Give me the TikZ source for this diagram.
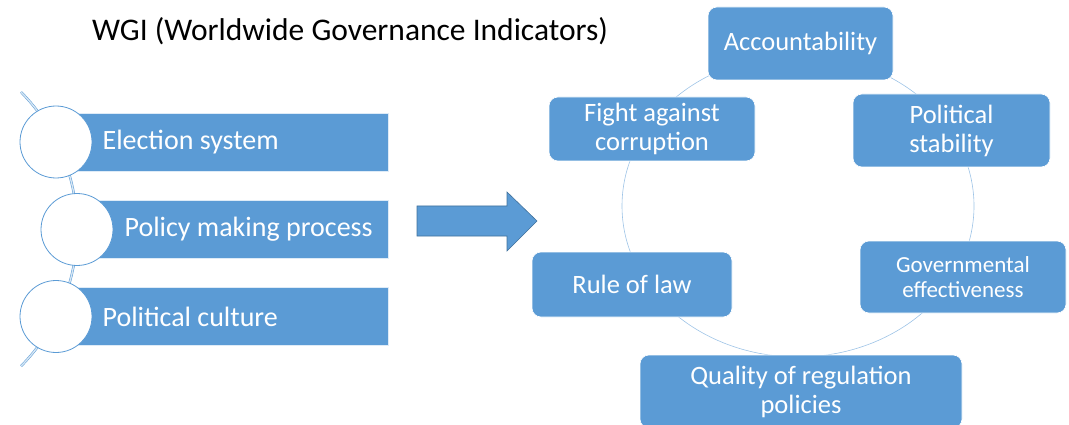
\documentclass[tikz,border=0pt]{standalone}
\usepackage{fontspec}
\setmainfont{Carlito}
\usetikzlibrary{positioning}
\definecolor{wgiblue}{HTML}{5B9BD5}
\definecolor{wgidark}{HTML}{41719C}
\definecolor{wgiring}{HTML}{9DC3E6}
\tikzset{
  indbox/.style={rectangle, rounded corners=9pt, fill=wgiblue, draw=white, line width=0.6pt,
    text=white, align=center, inner sep=0pt, font=\fontsize{26.5}{29}\selectfont},
  factbar/.style={rectangle, fill=wgiblue, draw=white!80!wgiblue, line width=0.6pt,
    minimum width=332pt, minimum height=58pt, anchor=west},
  factdot/.style={circle, fill=white, draw=wgiblue, line width=0.8pt, minimum size=72pt, inner sep=0pt},
  facttext/.style={text=white, inner sep=0pt, font=\fontsize{28}{30}\selectfont},
}
\begin{document}
\begin{tikzpicture}[x=1pt, y=-1pt]
    \useasboundingbox (0,0) rectangle (1069,425);
    \node[anchor=base west, inner sep=0pt, font=\fontsize{31.5}{36}\selectfont] (title) at (92,41) {WGI (Worldwide Governance Indicators)};
    % left list
    \draw[wgiblue, double=white!75!wgiblue, double distance=1.4pt, line width=0.5pt] (21,92) arc[start angle=-44.5, end angle=44.5, radius=195.6];
    \node[factbar] (elecbar) at (56,142) {};
    \node[factbar, minimum width=311pt] (polbar) at (77,229.5) {};
    \node[factbar] (cultbar) at (56,316.5) {};
    \node[factdot] (elecdot) at (56,142) {};
    \node[factdot] (poldot) at (77,229.5) {};
    \node[factdot] (cultdot) at (56,316.5) {};
    \node[facttext, right=10pt of elecdot] (electxt) {Election system};
    \node[facttext, right=11pt of poldot] (poltxt) {Policy making process};
    \node[facttext, right=10pt of cultdot] (culttxt) {Political culture};
    % arrow
    \draw[fill=wgiblue, draw=wgidark, line width=0.6pt] (417,206) -- (507,206) -- (507,192) -- (537,221)
        -- (507,251) -- (507,236) -- (417,236) -- cycle;
    % cycle
    \draw[wgiring, line width=0.6pt] (798,206) ellipse [x radius=176, y radius=151];
    \node[indbox, minimum width=185pt, minimum height=73pt] (acc) at (800.5,43.5) {Accountability};
    \node[indbox, minimum width=197pt, minimum height=73pt] (stab) at (951.5,130.5) {Political\\stability};
    \node[indbox, minimum width=206pt, minimum height=72pt, font=\fontsize{23}{25}\selectfont] (gov) at (963,277) {Governmental\\effectiveness};
    \node[indbox, minimum width=322pt, minimum height=73pt] (qual) at (801,391.5) {Quality of regulation\\policies};
    \node[indbox, minimum width=200pt, minimum height=65pt] (law) at (632,284.5) {Rule of law};
    \node[indbox, minimum width=206pt, minimum height=64pt] (corr) at (652,129) {Fight against\\corruption};
\end{tikzpicture}
\end{document}
